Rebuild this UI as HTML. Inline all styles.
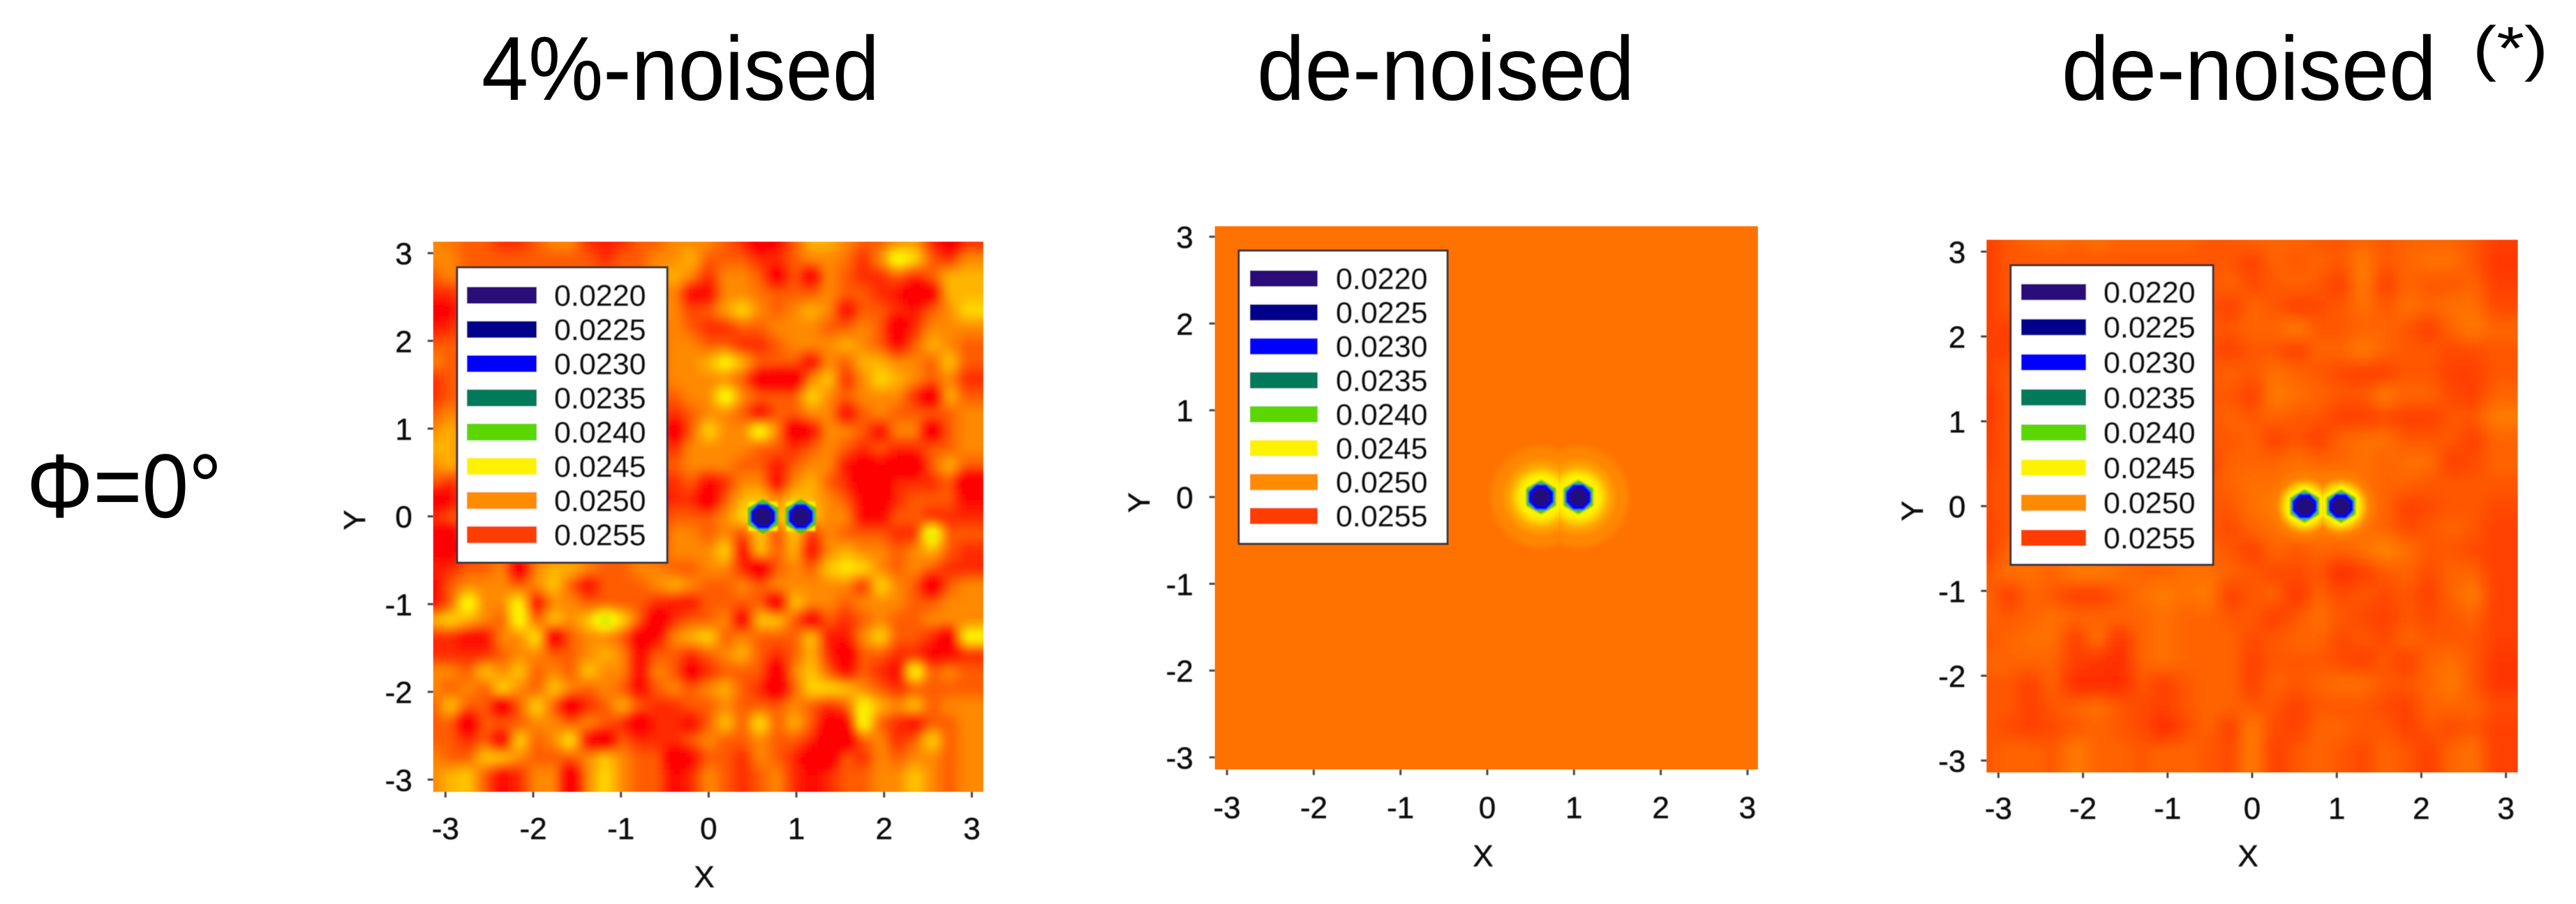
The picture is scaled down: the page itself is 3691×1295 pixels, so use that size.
<!DOCTYPE html>
<html lang="en">
<head>
<meta charset="utf-8">
<title>Phi = 0 de-noising comparison</title>
<style>
html,body{margin:0;padding:0;background:#fff;width:3691px;height:1295px;overflow:hidden;}
svg{display:block;overflow:hidden;font-family:"Liberation Sans",sans-serif;}
</style>
</head>
<body>
<svg id="figure" xmlns="http://www.w3.org/2000/svg" width="3691" height="1295" viewBox="0 0 3691 1295">
  <defs>
    <filter id="blur-field" filterUnits="userSpaceOnUse" x="0" y="0" width="3691" height="1295"><feGaussianBlur stdDeviation="3.5"/></filter>
    <filter id="blur-halo" filterUnits="userSpaceOnUse" x="0" y="0" width="3691" height="1295"><feGaussianBlur stdDeviation="4"/></filter>
    <filter id="blur-well" filterUnits="userSpaceOnUse" x="0" y="0" width="3691" height="1295"><feGaussianBlur stdDeviation="1.4"/></filter>
    <filter id="blur-text" filterUnits="userSpaceOnUse" x="0" y="0" width="3691" height="1295"><feGaussianBlur stdDeviation="0.4"/></filter>
  </defs>
  <rect x="0" y="0" width="3691" height="1295" fill="#ffffff"/>
  <text x="690" y="143" font-size="130" textLength="570" lengthAdjust="spacingAndGlyphs" fill="#000">4%-noised</text>
  <text x="1801" y="143" font-size="130" textLength="541" lengthAdjust="spacingAndGlyphs" fill="#000">de-noised</text>
  <text x="2954" y="143" font-size="130" textLength="537" lengthAdjust="spacingAndGlyphs" fill="#000">de-noised</text>
  <text x="3543" y="99" font-size="87" textLength="108" lengthAdjust="spacingAndGlyphs" fill="#000">(*)</text>
  <text x="38" y="741" font-size="130" textLength="280" lengthAdjust="spacingAndGlyphs" fill="#000">Φ=0°</text>
  <g id="panels"></g>
</svg>
<script>
// Chart data (field values are in units of 1e-4, so 255 reads as 0.0255)
const xTickValues = [-3, -2, -1, 0, 1, 2, 3];
const yTickValues = [-3, -2, -1, 0, 1, 2, 3];
const legendLevels = [220, 225, 230, 235, 240, 245, 250, 255];
const legendLabels = ["0.0220", "0.0225", "0.0230", "0.0235", "0.0240", "0.0245", "0.0250", "0.0255"];
const colorLevels = [220, 225, 230, 235, 240, 245, 250, 255, 258];
const colorStops = ["#2a0a78", "#00008b", "#0000ff", "#057a5a", "#5cd600", "#fff200", "#ff8c00", "#ff3c00", "#ff0000"];
const noisedColorLevels = [238, 241, 243, 245, 248, 251, 254, 256];
const noisedColorStops = ["#40c800", "#8ce000", "#d8ec00", "#fff000", "#ffb400", "#ff7400", "#ff2a00", "#ff0000"];
const starColorLevels = [250, 251.5, 252.5, 253.5, 255];
const starColorStops = ["#ff9000", "#ff7c00", "#ff6400", "#ff4a00", "#ff2c00"];
const wellX = [0.62, 1.05];
const wellY = [0, 0];

const noisedValues = [
[250,251,252,252,254,254,252,250,250,254,255,254,252,252,250,250,250,252,254,258,256,252,248,248,250,252,252,250,249,254,258,254],
[250,250,252,252,252,252,252,252,252,252,254,252,252,250,250,248,252,252,252,254,254,252,250,250,251,254,250,243,246,252,254,250],
[252,250,252,252,252,252,252,252,252,252,252,252,252,250,248,250,254,250,250,252,257,252,257,250,252,254,254,252,254,252,248,248],
[254,254,252,252,252,252,252,252,252,252,252,252,252,252,250,256,256,250,250,251,252,252,252,250,252,252,254,255,258,257,248,248],
[257,256,252,252,252,252,252,252,252,252,252,252,252,250,250,253,252,249,246,250,252,250,248,250,256,252,252,254,255,252,250,246],
[255,254,252,252,252,252,252,252,252,252,252,252,252,252,250,252,254,254,252,252,250,250,250,252,252,250,252,258,254,250,250,250],
[252,252,252,252,252,252,252,252,252,252,252,252,252,252,250,250,252,252,254,254,252,250,250,250,248,250,252,256,252,248,250,252],
[250,252,252,252,252,252,252,252,252,252,252,252,252,252,250,250,248,244,248,252,252,252,256,250,252,248,248,250,250,252,247,252],
[254,252,252,252,252,252,252,252,252,252,252,252,252,252,250,250,250,250,252,257,258,258,250,247,254,250,246,248,250,252,250,254],
[254,252,252,252,252,252,252,252,252,252,252,252,252,252,252,250,250,243,250,252,252,252,246,250,252,250,250,250,254,258,248,252],
[252,250,252,252,252,252,252,252,252,252,252,252,252,252,254,252,250,250,252,256,252,252,250,250,256,252,250,252,252,252,252,250],
[250,248,252,252,252,252,252,252,252,252,252,252,252,252,258,252,246,250,250,243,250,258,256,250,250,252,256,250,250,258,252,250],
[248,248,252,252,252,252,252,252,252,252,252,252,252,252,254,250,250,250,250,252,252,254,252,250,252,254,252,254,254,252,252,250],
[250,248,252,252,252,252,252,252,252,252,252,252,252,252,252,250,250,250,252,252,255,252,250,250,255,257,256,258,258,252,248,252],
[252,254,252,252,252,252,252,252,252,252,252,252,252,254,254,252,256,254,250,250,256,250,248,252,254,258,258,254,254,254,252,258],
[258,256,252,252,252,252,252,252,252,252,252,252,252,256,254,254,258,252,248,247,250,247,248,250,252,256,258,254,252,252,252,256],
[254,252,252,252,252,252,252,252,252,252,252,252,252,254,252,252,252,250,246,245,248,245,247,250,250,256,256,252,252,254,254,254],
[256,258,252,252,252,252,252,252,252,252,252,252,252,256,250,250,252,250,253,247,253,247,254,250,252,252,252,254,254,241,252,252],
[256,257,254,252,252,252,252,252,252,252,252,252,252,254,250,250,250,246,256,247,252,248,256,250,248,250,250,252,250,248,252,254],
[255,254,252,252,250,258,250,248,248,250,252,252,250,250,252,252,250,250,254,258,252,250,252,247,245,246,250,252,250,252,254,254],
[256,252,250,250,250,252,250,247,252,256,252,252,252,250,248,250,252,252,250,252,250,250,250,250,250,254,246,250,252,258,252,250],
[256,252,243,250,250,244,256,250,250,252,252,252,252,254,255,255,252,252,252,252,258,247,250,250,252,250,250,250,252,252,250,250],
[248,246,248,250,252,243,252,247,250,247,241,246,252,258,254,252,252,250,257,247,247,252,257,252,254,252,250,252,252,250,250,250],
[254,254,256,256,250,250,245,258,252,250,250,252,257,256,250,248,246,252,250,252,252,252,247,255,255,250,246,252,252,254,258,244],
[254,254,254,254,252,250,250,252,252,250,248,250,256,252,252,254,252,250,248,252,254,252,248,254,258,252,252,254,254,256,256,254],
[250,250,252,247,250,247,252,250,252,247,250,250,256,250,252,257,254,252,252,252,258,250,247,252,256,252,254,256,243,252,250,252],
[250,252,250,252,246,250,252,247,250,252,250,252,256,252,250,252,250,248,252,254,258,252,246,246,247,250,252,254,252,252,252,252],
[252,247,252,252,258,252,246,252,258,254,252,248,252,254,254,252,252,250,252,252,252,250,252,254,252,244,248,250,247,252,250,250],
[252,252,258,252,252,252,250,250,252,250,252,254,258,254,254,256,252,247,252,245,252,248,252,257,257,243,252,254,256,252,252,250],
[252,252,254,252,257,246,252,250,245,256,258,252,254,254,254,252,250,252,252,250,252,252,254,258,258,252,250,254,252,246,252,250],
[250,252,252,247,247,250,252,252,252,250,247,250,252,252,258,256,252,252,254,250,252,254,258,258,252,254,250,252,250,250,252,250],
[250,248,247,252,256,254,250,250,258,250,246,250,252,252,256,254,250,252,254,252,250,254,256,254,252,252,250,250,247,250,252,250]
];

const denoisedValues = [
[251.6,251.6],
[251.6,251.6]
];

const denoisedStarValues = [
[254,253,252.5,252,252.5,252,252.5,252.5,252.5,252.5,253,253,252.5,252.5,252.5,253,253,252.5,253,252.5,252.5,252.5,253,254],
[254,253,253,253,253,253,253,253,253,253,253,253,254,252.5,253,252.5,253,251.5,253,252.5,252,252,253,254.5],
[254,253,253,253,253,253,253,253,253,253,253,252.5,253.5,253,252.5,253,254,251.5,254,252.5,253,253,252.5,254],
[254,253,253,253,253,253,253,253,253,253,253,254,252.5,253,254,253.5,253,252,253,252,252.5,252,252,253.5],
[254,254,253,253,253,253,253,253,253,253,253,253,252.5,252.5,251.5,253,253,252.5,252.5,253,254,252.5,251.5,252.5],
[254,254,253,253,253,253,253,253,253,253,253,254,253,253,254,252.5,252.5,251.5,252.5,253,253,253.5,253.5,253],
[254,253,253,253,253,253,253,253,253,253,253,252.5,253,252,252.5,253,253.5,254,254,253,253,254,254,253],
[254.5,253,253,253,253,253,253,253,253,253,253,253,254,251.5,252,252.5,253,253,251.5,252.5,252.5,253.5,254,252.5],
[254.5,253,253,253,253,253,253,253,253,253,253,252.5,253,252.5,253,253,254,254,253.5,254,254,253,253,251.5],
[254,253,253,253,253,253,253,253,253,253,253,253,252.5,254,253,254,252.5,252,252,253,253,253,254,252.5],
[254,253,253,253,253,253,253,253,253,253,254,252.5,252.5,252.5,252,252.5,252.5,252,252.5,252,252,254,253.5,252.5],
[253.5,253,253,253,253,253,253,253,253,253,253,252.5,252,252,251.5,251,251,252,252.5,252.5,253,253,253,253],
[253.5,253,253,253,253,253,253,253,253,253,253,253,252,251.5,251,251,251,251.5,252.5,254,253.5,253,253,253.5],
[254,253,253,253,253,253,253,253,253,253,253,253.5,252.5,252,251.5,251.5,252,252,252.5,253.5,253,252.5,253,254],
[254,252.5,252.5,252.5,252.5,252.5,252.5,252.5,252.5,252.5,252.5,253,254,252.5,253,252.5,252.5,252,251,252,253,253,253.5,254],
[253,252,252,252.5,251.5,251.5,252,252.5,252.5,252,252,252.5,253,253.5,253.5,253,255,254,253,252.5,253.5,252.5,252.5,254],
[252.5,254,252.5,253,254,254,253,252,251.5,252,251.5,254,253,252.5,254.5,252.5,253.5,253,253.5,253,254,252.5,251.5,254],
[252.5,253,252.5,252,252.5,252.5,252.5,252.5,252,252.5,252.5,253,253,254,253,252,253,253.5,254,253,253.5,253,252.5,254],
[253,252.5,252,252,254,252,254.5,252.5,252,252.5,252.5,252.5,253.5,253,252.5,252.5,253.5,253,253.5,252.5,253,253,253,254],
[252.5,252.5,252.5,252.5,254,254.5,255,252.5,252,252.5,252.5,252.5,254,253,253,253,253.5,254,253,254,252.5,252,253,254.5],
[253,253,254,252.5,255,255,255,253,254,253,252.5,252.5,254,252.5,253,252.5,252,252,253,253,252.5,251.5,253,254.5],
[253,253,254,253,252.5,252,253,253.5,254,253,252.5,252.5,253,253,254,253,253,253,253.5,254,252.5,252.5,252.5,253.5],
[253,253.5,254,253.5,253,252.5,253,253.5,255,253.5,252.5,254,251.5,253.5,254,252.5,252.5,253,253,254,253,253.5,253,254],
[253,252.5,252.5,253,251.5,252.5,252.5,253,252.5,252.5,253,253.5,251.5,254,253,252.5,253,253.5,252.5,253,254,252.5,252,254]
];

// Well core shapes: radius in data units, field level, polygon side count
const noisedWellRadii = [0.235, 0.2, 0.155, 0.11];
const noisedWellLevels = [245, 239, 230, 221];
const noisedWellSides = [4, 6, 8, 8];
const smoothWellRadii = [0.24, 0.2, 0.16, 0.112];
const smoothWellLevels = [245, 239, 230, 221];
const smoothWellSides = [6, 6, 8, 8];
const denoisedHaloRadii = [0.58, 0.42, 0.33, 0.27];
const denoisedHaloLevels = [250.4, 249, 247, 245];
const starHaloRadii = [0.4, 0.3, 0.24];
const starHaloLevels = [251, 248, 245];
const noHaloRadii = [];
const noHaloLevels = [];

// Layout (not data)
const panelLayouts = [
 {key:"noised", values:noisedValues, stopsLevels:noisedColorLevels, stopsColors:noisedColorStops, x0:1015.4, ux:125.7, y0:739.7, uy:125.7, xMin:-3.14, xMax:3.13, yMin:-3.14, yMax:3.13,
  tickLen:8, xLabelY:1202, yLabelGap:30, xTitle:[1009,1271], yTitle:[523,745], wellRadii:noisedWellRadii, wellLevels:noisedWellLevels, wellSides:noisedWellSides, haloRadii:noHaloRadii, haloLevels:noHaloLevels,
  legend:{l:655,t:383,w:301,h:423,swL:669,swW:100,swH:24,textX:794,row0:423,rowGap:49}},
 {key:"denoised", values:denoisedValues, stopsLevels:colorLevels, stopsColors:colorStops, x0:2131, ux:124.3, y0:712, uy:124.3, xMin:-3.14, xMax:3.12, yMin:-3.14, yMax:3.12,
  tickLen:8, xLabelY:1172, yLabelGap:31, xTitle:[2125,1241], yTitle:[1647,720], wellRadii:smoothWellRadii, wellLevels:smoothWellLevels, wellSides:smoothWellSides, haloRadii:denoisedHaloRadii, haloLevels:denoisedHaloLevels,
  legend:{l:1775,t:359,w:299,h:420,swL:1791,swW:97,swH:23,textX:1914,row0:399,rowGap:48.6}},
 {key:"denoised-star", values:denoisedStarValues, stopsLevels:starColorLevels, stopsColors:starColorStops, x0:3227, ux:121.2, y0:725, uy:121.5, xMin:-3.14, xMax:3.14, yMin:-3.14, yMax:3.14,
  tickLen:8, xLabelY:1173, yLabelGap:30, xTitle:[3221,1241], yTitle:[2755,732], wellRadii:smoothWellRadii, wellLevels:smoothWellLevels, wellSides:smoothWellSides, haloRadii:starHaloRadii, haloLevels:starHaloLevels,
  legend:{l:2881,t:380,w:290,h:429,swL:2896,swW:93,swH:23,textX:3014,row0:418.4,rowGap:50.3}}
];
const SUBCELLS = 3;
const EDGE_PAD = 12;

const SVGNS = "http://www.w3.org/2000/svg";
function make(parent, tag, attrs, text) {
  const el = document.createElementNS(SVGNS, tag);
  for (const k in attrs) el.setAttribute(k, attrs[k]);
  if (text !== undefined) el.textContent = text;
  parent.appendChild(el);
  return el;
}
function hexToRgb(h) { return [parseInt(h.slice(1,3),16), parseInt(h.slice(3,5),16), parseInt(h.slice(5,7),16)]; }
function rampColor(v, levels, stops) {
  if (v <= levels[0]) return stops[0];
  for (let i = 1; i < levels.length; i++) {
    if (v <= levels[i]) {
      const t = (v - levels[i-1]) / (levels[i] - levels[i-1]);
      const a = hexToRgb(stops[i-1]), b = hexToRgb(stops[i]);
      return "rgb(" + a.map((c, j) => Math.round(c + (b[j]-c)*t)).join(",") + ")";
    }
  }
  return stops[stops.length-1];
}
function levelColor(v) { return rampColor(v, colorLevels, colorStops); }
function polygonPoints(cx, cy, r, sides, xs, ys) {
  const pts = [];
  for (let k = 0; k < sides; k++) {
    const a = Math.PI / sides + k * 2 * Math.PI / sides;
    pts.push(xs(cx + r*Math.cos(a)).toFixed(1) + "," + ys(cy + r*Math.sin(a)).toFixed(1));
  }
  return pts.join(" ");
}
function fieldAt(values, rowPos, colPos) {
  const rows = values.length, cols = values[0].length;
  const r = Math.max(0, Math.min(rows-1, rowPos)), c = Math.max(0, Math.min(cols-1, colPos));
  const r0 = Math.floor(r), c0 = Math.floor(c);
  const r1 = Math.min(rows-1, r0+1), c1 = Math.min(cols-1, c0+1);
  const fr = r - r0, fc = c - c0;
  return (values[r0][c0]*(1-fc) + values[r0][c1]*fc)*(1-fr) + (values[r1][c0]*(1-fc) + values[r1][c1]*fc)*fr;
}
function clampTo(v, lo, hi) { return Math.max(lo, Math.min(hi, v)); }

const root = document.getElementById("panels");
const defs = document.querySelector("defs");

panelLayouts.forEach(function (p) {
  const xScale = v => p.x0 + v * p.ux;
  const yScale = v => p.y0 - v * p.uy;
  const left = xScale(p.xMin), right = xScale(p.xMax), top = yScale(p.yMax), bottom = yScale(p.yMin);

  const panel = make(root, "g", {});
  
  

  const clip = make(defs, "clipPath", {id: "clip-" + p.key});
  make(clip, "rect", {x:left, y:top, width:right-left, height:bottom-top});

  const plot = make(panel, "g", {"clip-path":"url(#clip-" + p.key + ")"});
  
  

  const cells = make(plot, "g", {filter:"url(#blur-field)"});
  
  
  const rows = p.values.length, cols = p.values[0].length;
  const dx = (p.xMax - p.xMin) / cols, dy = (p.yMax - p.yMin) / rows;
  for (let sr = -SUBCELLS; sr < rows*SUBCELLS + 2; sr++) {
    for (let sc = -SUBCELLS; sc < cols*SUBCELLS + 2; sc++) {
      const rowPos = (sr + 0.5) / SUBCELLS, colPos = (sc + 0.5) / SUBCELLS;
      const val = fieldAt(p.values, rowPos, colPos);
      const xa = clampTo(xScale(p.xMin + (colPos - 0.5/SUBCELLS)*dx), left-EDGE_PAD, right+EDGE_PAD);
      const xb = clampTo(xScale(p.xMin + (colPos + 0.5/SUBCELLS)*dx) + 0.6, left-EDGE_PAD, right+EDGE_PAD);
      const ya = clampTo(yScale(p.yMax - (rowPos - 0.5/SUBCELLS)*dy), top-EDGE_PAD, bottom+EDGE_PAD);
      const yb = clampTo(yScale(p.yMax - (rowPos + 0.5/SUBCELLS)*dy) + 0.6, top-EDGE_PAD, bottom+EDGE_PAD);
      if (xb <= xa || yb <= ya) continue;
      const cell = make(cells, "rect", {x:xa.toFixed(1), y:ya.toFixed(1), width:(xb-xa).toFixed(1), height:(yb-ya).toFixed(1), fill:rampColor(val, p.stopsLevels, p.stopsColors)});
      
      
    }
  }

  const midX = (wellX[0] + wellX[1]) / 2;
  wellX.forEach(function (wx, i) {
    const wy = wellY[i];
    if (p.haloRadii.length) {
      const halfClip = make(defs, "clipPath", {id:"halo-" + p.key + "-" + i});
      const a = i === 0 ? left : xScale(midX), b = i === 0 ? xScale(midX) : right;
      make(halfClip, "rect", {x:a, y:top, width:b-a, height:bottom-top});
      const haloOuter = make(plot, "g", {"clip-path":"url(#halo-" + p.key + "-" + i + ")"});
      
      
      const halo = make(haloOuter, "g", {filter:"url(#blur-halo)"});
      p.haloRadii.forEach(function (rad, j) {
        const ring = make(halo, "polygon", {points:polygonPoints(wx, wy, rad, 32, xScale, yScale), fill:levelColor(p.haloLevels[j])});
        
        
      });
    }
    const core = make(plot, "g", {filter:"url(#blur-well)"});
    
    
    p.wellRadii.forEach(function (rad, j) {
      const layer = make(core, "polygon", {points:polygonPoints(wx, wy, rad, p.wellSides[j], xScale, yScale), fill:levelColor(p.wellLevels[j])});
      
      
    });
  });

  // Axes
  const axes = make(panel, "g", {filter:"url(#blur-text)"});
  
  
  xTickValues.forEach(function (t) {
    const x = xScale(t);
    const tick = make(axes, "line", {x1:x, x2:x, y1:bottom, y2:bottom+p.tickLen, stroke:"#444", "stroke-width":3});
    
    
    const label = make(axes, "text", {x:x, y:p.xLabelY, "text-anchor":"middle", "font-size":44, fill:"#111", stroke:"#111", "stroke-width":0.5}, String(t));
    
    
  });
  yTickValues.forEach(function (t) {
    const y = yScale(t);
    const tick = make(axes, "line", {x1:left-p.tickLen, x2:left, y1:y, y2:y, stroke:"#444", "stroke-width":3});
    
    
    const label = make(axes, "text", {x:left-p.yLabelGap, y:y+16, "text-anchor":"end", "font-size":44, fill:"#111", stroke:"#111", "stroke-width":0.5}, String(t));
    
    
  });
  const xTitle = make(axes, "text", {x:p.xTitle[0], y:p.xTitle[1], "text-anchor":"middle", "font-size":44, fill:"#111", stroke:"#111", "stroke-width":0.5}, "X");
  
  
  const yTitle = make(axes, "text", {x:p.yTitle[0], y:p.yTitle[1], "text-anchor":"middle", "font-size":44, fill:"#111", stroke:"#111", "stroke-width":0.5, transform:"rotate(-90 " + p.yTitle[0] + " " + p.yTitle[1] + ")"}, "Y");
  
  

  // Legend
  const L = p.legend;
  const legend = make(panel, "g", {filter:"url(#blur-text)"});
  
  
  const box = make(legend, "rect", {x:L.l, y:L.t, width:L.w, height:L.h, fill:"#fff", stroke:"#3a3340", "stroke-width":3});
  
  
  legendLevels.forEach(function (lv, i) {
    const cy = L.row0 + i * L.rowGap;
    const sw = make(legend, "rect", {x:L.swL, y:cy - L.swH/2, width:L.swW, height:L.swH, fill:levelColor(lv)});
    
    
    const tx = make(legend, "text", {x:L.textX, y:cy+15, "font-size":43, fill:"#111", stroke:"#111", "stroke-width":0.5}, legendLabels[i]);
    
    
  });
});
</script>
</body>
</html>
